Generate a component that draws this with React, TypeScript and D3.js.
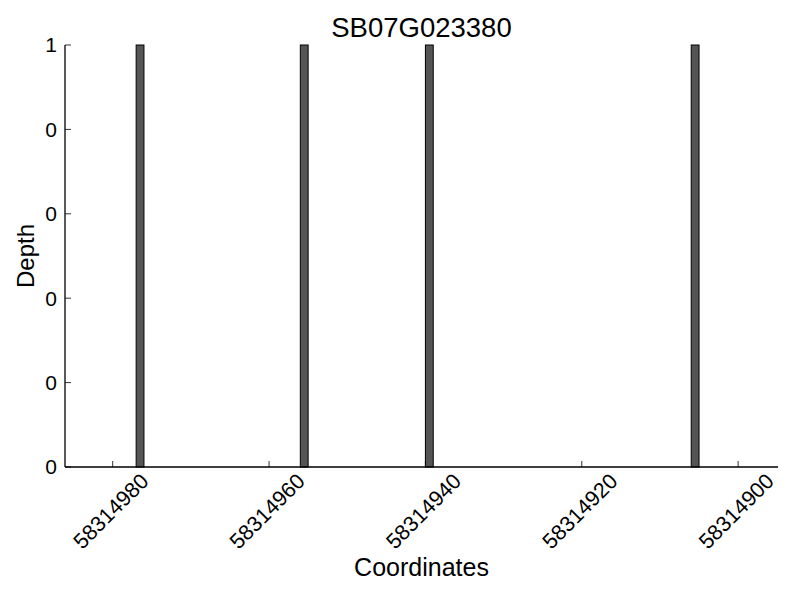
import * as d3 from 'd3'
import { useEffect } from 'react'

// depth per coordinate (bar starts at coord, width 1)
const coords = [58314976, 58314955, 58314939, 58314905]
const depths = [1, 1, 1, 1]

const xTicks = [58314980, 58314960, 58314940, 58314920, 58314900]
const yTicks = [0, 0.2, 0.4, 0.6, 0.8, 1.0]
const yTickLabels = ['0', '0', '0', '0', '0', '1']

const title = 'SB07G023380'
const xLabel = 'Coordinates'
const yLabel = 'Depth'

const W = 800
const H = 600
const margin = { top: 45, right: 22, bottom: 133, left: 65 }

const App = () => {
    useEffect(() => {
        document.body.style.margin = '0'
    }, [])

    const font = '"Liberation Sans", Arial, Helvetica, sans-serif'

    // reversed axis, like the original
    const x = d3.scaleLinear()
        .domain([58314986.1, 58314894.9])
        .range([margin.left, W - margin.right])

    const y = d3.scaleLinear()
        .domain([0, 1])
        .range([H - margin.bottom, margin.top])

    const y0 = y(0)
    const tickLen = 6

    return (
        <svg width={W} height={H} style={{ display: 'block', background: '#fff' }} fontFamily={font}>
            {/* bars */}
            {coords.map((c, i) => {
                const left = Math.min(x(c), x(c + 1))
                const w = Math.abs(x(c) - x(c + 1))
                return (
                    <rect key={c}
                        x={left} y={y(depths[i])}
                        width={w} height={y0 - y(depths[i])}
                        fill='#555555' stroke='#000' strokeWidth={1} />
                )
            })}

            {/* x axis */}
            <line x1={margin.left} x2={W - margin.right} y1={y0} y2={y0} stroke='#000' strokeWidth={1.3} />
            {xTicks.map(t => (
                <g key={t}>
                    <line x1={x(t)} x2={x(t)} y1={y0} y2={y0 - tickLen} stroke='#000' strokeWidth={0.8} />
                    <g transform={`translate(${x(t) - 2},${y0 + 44}) rotate(-45)`}>
                        <text textAnchor='middle' dy='0.35em' fontSize={21.5} fill='#000'>{t}</text>
                    </g>
                </g>
            ))}

            {/* y axis */}
            <line x1={margin.left} x2={margin.left} y1={margin.top} y2={y0} stroke='#000' strokeWidth={1.3} />
            {yTicks.map((t, i) => (
                <g key={t}>
                    <line x1={margin.left} x2={margin.left + tickLen} y1={y(t)} y2={y(t)} stroke='#000' strokeWidth={0.8} />
                    <text x={margin.left - 8} y={y(t)} dy='0.35em' textAnchor='end' fontSize={21} fill='#000'>
                        {yTickLabels[i]}
                    </text>
                </g>
            ))}

            {/* labels */}
            <text x={(margin.left + W - margin.right) / 2} y={37} textAnchor='middle' fontSize={27.5} fill='#000'>{title}</text>
            <text x={(margin.left + W - margin.right) / 2} y={576} textAnchor='middle' fontSize={25} fill='#000'>{xLabel}</text>
            <text transform={`translate(34,${(margin.top + y0) / 2}) rotate(-90)`} textAnchor='middle' fontSize={24} fill='#000'>{yLabel}</text>
        </svg>
    )
}

export default App
